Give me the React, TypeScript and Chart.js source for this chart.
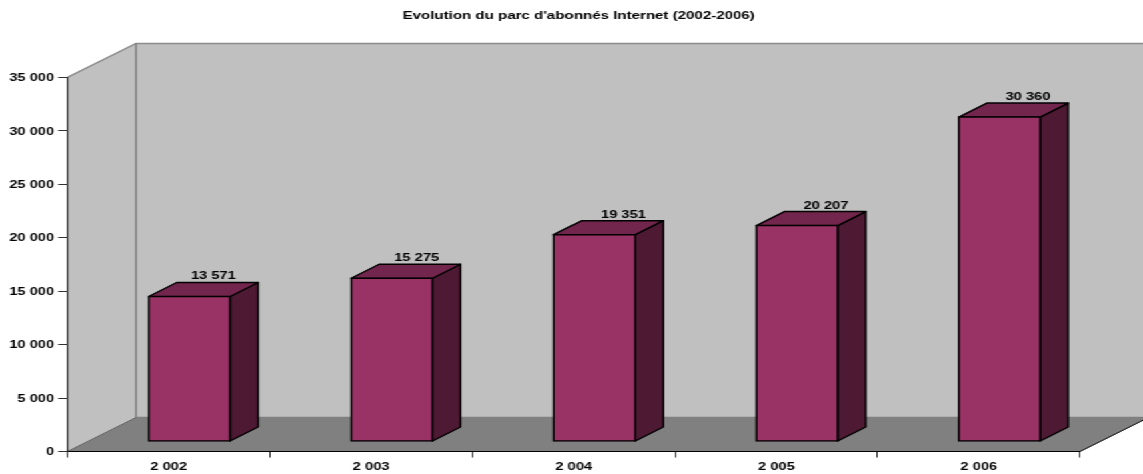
import React, { useEffect, useRef } from "react";
import { Chart, registerables } from "chart.js";

Chart.register(...registerables);

const categories = ["2 002", "2 003", "2 004", "2 005", "2 006"];
const parc = [13571, 15275, 19351, 20207, 30360];
const valueLabels = ["13 571", "15 275", "19 351", "20 207", "30 360"];
const labelNudge = [18, 18.7, 21.7, 21.7, 21.4];
const chartTitle = "Evolution du parc d'abonnés Internet (2002-2006)";

const W = 857;
const H = 474;
const STRETCH = 1143 / W;
const FONT = "'Liberation Sans', Arial, sans-serif";
const WALL_DX = 51.4;
const WALL_DY = 34;
const BAR_DX = 15.5;
const BAR_DY = 10;
const DEPTH_DX = 21;
const DEPTH_DY = 14;

function poly(ctx: CanvasRenderingContext2D, pts: number[][], fill: string | null, stroke: string | null, lw = 1) {
  ctx.beginPath();
  pts.forEach((p, i) => (i ? ctx.lineTo(p[0], p[1]) : ctx.moveTo(p[0], p[1])));
  if (fill) {
    ctx.closePath();
    ctx.fillStyle = fill;
    ctx.fill();
  }
  if (stroke) {
    ctx.strokeStyle = stroke;
    ctx.lineWidth = lw;
    ctx.stroke();
  }
}

const scene3d = {
  id: "scene3d",
  afterLayout(chart: any) {
    if (chart.titleBlock) chart.titleBlock.left += 58;
  },
  beforeDraw(chart: any) {
    const ctx = chart.ctx;
    const { left, right, top, bottom } = chart.chartArea;
    ctx.save();
    poly(ctx, [[left, bottom], [left, top], [left + WALL_DX, top - WALL_DY], [left + WALL_DX, bottom - WALL_DY]], "#c0c0c0", null);
    poly(ctx, [[left + WALL_DX, top - WALL_DY], [right + WALL_DX, top - WALL_DY], [right + WALL_DX, bottom - WALL_DY], [left + WALL_DX, bottom - WALL_DY]], "#c0c0c0", null);
    poly(ctx, [[left, bottom], [left + WALL_DX, bottom - WALL_DY], [right + WALL_DX, bottom - WALL_DY], [right, bottom]], "#808080", null);
    poly(ctx, [[left, top], [left + WALL_DX, top - WALL_DY], [right + WALL_DX, top - WALL_DY]], null, "#8c8c8c", 1.5);
    poly(ctx, [[left + WALL_DX, top - WALL_DY], [left + WALL_DX, bottom - WALL_DY], [right + WALL_DX, bottom - WALL_DY]], null, "#808080", 1.5);
    poly(ctx, [[left, bottom], [left + WALL_DX, bottom - WALL_DY]], null, "#606060", 1);
    poly(ctx, [[right, bottom], [right + WALL_DX, bottom - WALL_DY]], null, "#000000", 1);
    ctx.restore();
  },
  beforeDatasetDraw(chart: any, args: any) {
    const ctx = chart.ctx;
    ctx.save();
    ctx.translate(BAR_DX, -BAR_DY);
    ctx.lineJoin = "round";
    args.meta.data.forEach((el: any) => {
      const l = el.x - el.width / 2;
      const r = el.x + el.width / 2;
      const t = el.y;
      const b = el.base;
      poly(ctx, [[r, t], [r + DEPTH_DX, t - DEPTH_DY], [r + DEPTH_DX, b - DEPTH_DY], [r, b]], "#4d1933", "#000000", 1.4);
      poly(ctx, [[l, t], [l + DEPTH_DX, t - DEPTH_DY], [r + DEPTH_DX, t - DEPTH_DY], [r, t]], "#73264d", "#000000", 1.4);
    });
  },
  afterDatasetDraw(chart: any) {
    chart.ctx.restore();
  },
  afterDatasetsDraw(chart: any) {
    const ctx = chart.ctx;
    ctx.save();
    ctx.font = `bold 11px ${FONT}`;
    ctx.fillStyle = "#000000";
    ctx.textAlign = "center";
    ctx.textBaseline = "middle";
    chart.getDatasetMeta(0).data.forEach((el: any, i: number) => {
      ctx.fillText(valueLabels[i], el.x + BAR_DX + labelNudge[i], el.y - BAR_DY - DEPTH_DY - 6);
    });
    ctx.restore();
  },
};

export default function App() {
  const ref = useRef<HTMLCanvasElement>(null);
  useEffect(() => {
    document.body.style.margin = "0";
    document.body.style.background = "#ffffff";
    const chart = new Chart(ref.current as HTMLCanvasElement, {
      type: "bar",
      data: {
        labels: categories,
        datasets: [
          {
            label: "Parc d'abonnés Internet",
            data: parc,
            backgroundColor: "#993366",
            borderColor: "#000000",
            borderWidth: 1.6,
            borderSkipped: false,
            inflateAmount: 0.8,
            barPercentage: 0.402,
            categoryPercentage: 1,
            clip: false,
          } as any,
        ],
      },
      options: {
        responsive: false,
        animation: false,
        devicePixelRatio: 1,
        layout: { padding: { left: 0, right: 47.2, top: 0, bottom: 0 } },
        plugins: {
          legend: { display: false },
          tooltip: { enabled: false },
          title: {
            display: true,
            text: chartTitle,
            color: "#000000",
            font: { family: FONT, size: 11.3, weight: "bold" },
            padding: { top: 9.5, bottom: 54.4 },
          },
        },
        scales: {
          x: {
            afterFit(s: any) {
              s.height = 22.5;
            },
            grid: {
              offset: true,
              drawOnChartArea: false,
              drawTicks: true,
              tickLength: 6,
              tickColor: "#333333",
              tickWidth: 1,
            },
            border: { color: "#000000", width: 1 },
            ticks: {
              color: "#000000",
              padding: 3,
              maxRotation: 0,
              autoSkip: false,
              font: { family: FONT, size: 11, weight: "bold" },
            },
          },
          y: {
            min: 0,
            max: 35000,
            afterFit(s: any) {
              s.width = 50.6;
            },
            grid: {
              drawOnChartArea: false,
              tickLength: 7,
              tickColor: "#333333",
              tickWidth: 1,
            },
            border: { color: "#333333", width: 1.2 },
            ticks: {
              stepSize: 5000,
              color: "#000000",
              padding: 3,
              labelOffset: 0.7,
              font: { family: FONT, size: 11, weight: "bold" },
              callback: (v: any) => String(v).replace(/\B(?=(\d{3})+$)/g, " "),
            },
          },
        },
      },
      plugins: [scene3d],
    } as any);
    return () => chart.destroy();
  }, []);
  return (
    <div
      style={{
        position: "fixed",
        left: 0,
        top: 0,
        width: W,
        height: H,
        transform: `scaleX(${STRETCH})`,
        transformOrigin: "0 0",
        background: "#ffffff",
      }}
    >
      <canvas ref={ref} width={W} height={H} style={{ display: "block" }} />
    </div>
  );
}
